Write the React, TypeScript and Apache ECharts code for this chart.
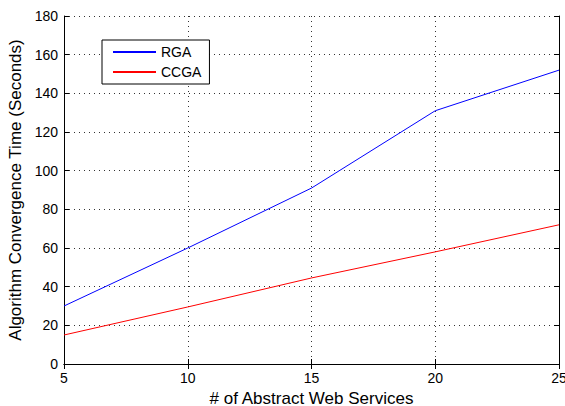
import React, { useEffect, useRef } from "react";
import * as echarts from "echarts";

const xValues = [5, 10, 15, 20, 25];
const rgaValues = [30, 60, 91, 131, 152];
const ccgaValues = [15, 29.5, 44.5, 58, 72];
const seriesNames = ["RGA", "CCGA"];

const FONT = "Liberation Sans, Arial, Helvetica, sans-serif";

export default function App() {
  const ref = useRef<HTMLDivElement>(null);
  useEffect(() => {
    if (!ref.current) return;
    const chart = echarts.init(ref.current, undefined, { renderer: "svg" });
    const axisLine = { show: true, lineStyle: { color: "#000", width: 1 } };
    const tick = { show: true, inside: true, length: 5, lineStyle: { color: "#000" } };
    const split = { show: true, lineStyle: { color: "#333", type: [1, 4] as any, width: 1 } };
    chart.setOption({
      animation: false,
      backgroundColor: "#fff",
      textStyle: { fontFamily: FONT },
      grid: {
        left: 64,
        right: 6,
        top: 16,
        bottom: 42,
        containLabel: false,
        outerBoundsMode: "none",
      },
      legend: {
        data: seriesNames,
        orient: "vertical",
        left: 102,
        top: 40,
        backgroundColor: "#fff",
        borderColor: "#000",
        borderWidth: 1,
        borderRadius: 0,
        padding: [5, 8, 5, 10],
        itemGap: 6,
        itemWidth: 43,
        itemHeight: 14,
        itemStyle: { opacity: 0 },
        textStyle: { fontFamily: FONT, fontSize: 14, color: "#000" },
      },
      xAxis: [
        {
          type: "value",
          min: 5,
          max: 25,
          interval: 5,
          name: "# of Abstract Web Services",
          nameLocation: "middle",
          nameGap: 25,
          nameTextStyle: { fontFamily: FONT, fontSize: 17, color: "#000" },
          axisLine,
          axisTick: tick,
          splitLine: split,
          axisLabel: { color: "#000", fontSize: 14, margin: 7, fontFamily: FONT },
        },
        {
          type: "value",
          position: "top",
          min: 5,
          max: 25,
          interval: 5,
          axisLine,
          axisTick: tick,
          splitLine: { show: false },
          axisLabel: { show: false },
        },
      ],
      yAxis: [
        {
          type: "value",
          min: 0,
          max: 180,
          interval: 20,
          name: "Algorithm Convergence Time (Seconds)",
          nameLocation: "middle",
          nameGap: 36,
          nameTextStyle: { fontFamily: FONT, fontSize: 17, color: "#000" },
          axisLine,
          axisTick: tick,
          splitLine: split,
          axisLabel: { color: "#000", fontSize: 14, margin: 6, fontFamily: FONT },
        },
        {
          type: "value",
          position: "right",
          min: 0,
          max: 180,
          interval: 20,
          axisLine,
          axisTick: tick,
          splitLine: { show: false },
          axisLabel: { show: false },
        },
      ],
      series: [
        {
          name: seriesNames[0],
          type: "line",
          symbol: "none",
          data: xValues.map((x, i) => [x, rgaValues[i]]),
          lineStyle: { color: "#0000ff", width: 1 },
          itemStyle: { color: "#0000ff" },
        },
        {
          name: seriesNames[1],
          type: "line",
          symbol: "none",
          data: xValues.map((x, i) => [x, ccgaValues[i]]),
          lineStyle: { color: "#ff0000", width: 1 },
          itemStyle: { color: "#ff0000" },
        },
      ],
    });
    return () => chart.dispose();
  }, []);
  return (
    <div
      ref={ref}
      style={{ position: "fixed", left: 0, top: 0, width: 565, height: 406 }}
    />
  );
}
